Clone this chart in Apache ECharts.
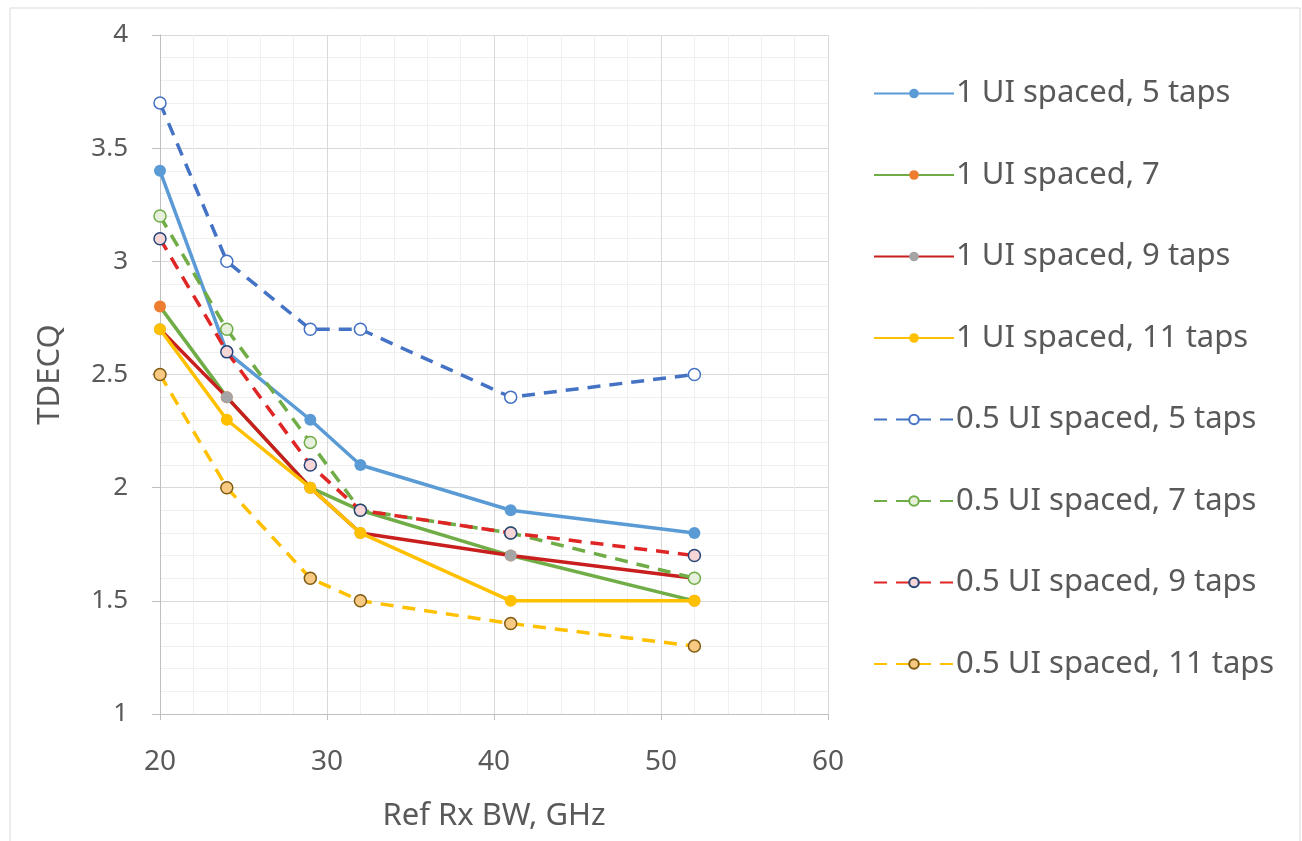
<!DOCTYPE html>
<html>
<head>
<meta charset="utf-8">
<script src="https://cdn.jsdelivr.net/npm/echarts@6/dist/echarts.min.js"></script>
<style>
html,body{margin:0;padding:0;background:#fff;}
#chart{width:1302px;height:841px;}
</style>
</head>
<body>
<div id="chart"></div>
<script>
const xValues = [20, 24, 29, 32, 41, 52];
const seriesNames = [
  "1 UI spaced, 5 taps",
  "1 UI spaced, 7",
  "1 UI spaced, 9 taps",
  "1 UI spaced, 11 taps",
  "0.5 UI spaced, 5 taps",
  "0.5 UI spaced, 7 taps",
  "0.5 UI spaced, 9 taps",
  "0.5 UI spaced, 11 taps"
];
const ui1_5 = [3.4, 2.6, 2.3, 2.1, 1.9, 1.8];
const ui1_7 = [2.8, 2.4, 2.0, 1.9, 1.7, 1.5];
const ui1_9 = [2.7, 2.4, 2.0, 1.8, 1.7, 1.6];
const ui1_11 = [2.7, 2.3, 2.0, 1.8, 1.5, 1.5];
const ui05_5 = [3.7, 3.0, 2.7, 2.7, 2.4, 2.5];
const ui05_7 = [3.2, 2.7, 2.2, 1.9, 1.8, 1.6];
const ui05_9 = [3.1, 2.6, 2.1, 1.9, 1.8, 1.7];
const ui05_11 = [2.5, 2.0, 1.6, 1.5, 1.4, 1.3];

const allData = [ui1_5, ui1_7, ui1_9, ui1_11, ui05_5, ui05_7, ui05_9, ui05_11];
const lineColors = ['#5B9BD5', '#70AD47', '#C81E1E', '#FFC000', '#4472C4', '#70AD47', '#E02525', '#FFC000'];
const markerFill = ['#5B9BD5', '#ED7D31', '#A5A5A5', '#FFC000', '#FFFFFF', '#E6F0DC', '#F6D6D6', '#F7C982'];
const markerBorder = ['#5B9BD5', '#ED7D31', '#A5A5A5', '#FFC000', '#4472C4', '#70AD47', '#264478', '#7F5A10'];

const FONT = '"Noto Sans", "Open Sans", sans-serif';
const TXT = '#595959';

const series = allData.map((d, i) => {
  const dashed = i >= 4;
  return {
    name: seriesNames[i],
    type: 'line',
    data: d.map((v, j) => [xValues[j], v]),
    symbol: 'circle',
    symbolSize: 12,
    showSymbol: true,
    lineStyle: { color: lineColors[i], width: 3.5, type: dashed ? [13, 9] : 'solid' },
    itemStyle: { color: markerFill[i], borderColor: markerBorder[i], borderWidth: dashed ? 1.5 : 0 },
    z: 2 + i,
    animation: false
  };
});

const chart = echarts.init(document.getElementById('chart'));
chart.setOption({
  animation: false,
  backgroundColor: '#fff',
  graphic: [{
    type: 'rect', shape: { x: 10, y: 8, width: 1290, height: 840 },
    style: { fill: 'none', stroke: '#D9D9D9', lineWidth: 1 }, silent: true
  }],
  grid: { left: 160, right: 474, top: 35, bottom: 127 },
  xAxis: {
    type: 'value', min: 20, max: 60, interval: 10,
    name: 'Ref Rx BW, GHz', nameLocation: 'middle', nameGap: 87,
    nameTextStyle: { fontFamily: FONT, fontSize: 31, color: TXT },
    axisLine: { show: true, lineStyle: { color: '#BFBFBF', width: 1 } },
    axisTick: { show: true, length: 6, lineStyle: { color: '#BFBFBF' } },
    axisLabel: { fontFamily: FONT, fontSize: 28, color: TXT, margin: 34 },
    splitLine: { show: true, lineStyle: { color: '#D9D9D9', width: 1 } },
    minorTick: { show: false, splitNumber: 5 },
    minorSplitLine: { show: true, lineStyle: { color: '#F0F0F0', width: 1 } }
  },
  yAxis: {
    type: 'value', min: 1, max: 4, interval: 0.5,
    name: 'TDECQ', nameLocation: 'middle', nameGap: 94, nameRotate: 90,
    nameTextStyle: { fontFamily: FONT, fontSize: 31, color: TXT },
    axisLine: { show: true, lineStyle: { color: '#BFBFBF', width: 1 } },
    axisTick: { show: true, length: 8, lineStyle: { color: '#BFBFBF' } },
    axisLabel: { fontFamily: FONT, fontSize: 26, color: TXT, margin: 32 },
    splitLine: { show: true, lineStyle: { color: '#D9D9D9', width: 1 } },
    minorTick: { show: false, splitNumber: 5 },
    minorSplitLine: { show: true, lineStyle: { color: '#F0F0F0', width: 1 } }
  },
  legend: {
    orient: 'vertical', left: 868, top: 73,
    itemWidth: 80, itemHeight: 12, itemGap: 50.5,
    textStyle: { fontFamily: FONT, fontSize: 31, color: TXT, lineHeight: 31, padding: [0, 0, 0, -3] },
    data: seriesNames
  },
  series: series
});
</script>
</body>
</html>
